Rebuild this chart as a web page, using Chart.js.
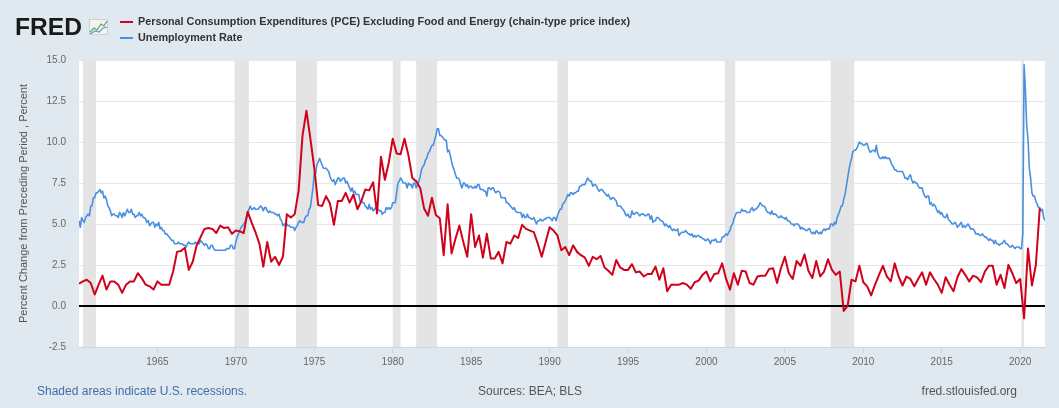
<!DOCTYPE html>
<html>
<head>
<meta charset="utf-8">
<title>PCE excluding food and energy vs unemployment rate</title>
<script src="https://cdn.jsdelivr.net/npm/chart.js@4.4.0/dist/chart.umd.min.js"></script>
<style>
  html, body { margin: 0; padding: 0; background: #e1e9f0; }
  #wrap { width: 1059px; height: 408px; }
</style>
</head>
<body>
<div id="wrap"><canvas id="chart" width="1059" height="408"></canvas></div>
<script>
"use strict";

// first observation of both series
const START_YEAR = 1960;

// PCE excl. food & energy, % change from preceding period (annual rate), quarterly from 1960 Q1
const pceCore = [
    1.36, 1.5, 1.6, 1.4,      // 1960
    0.7, 1.3, 1.85, 1.0,      // 1961
    1.5, 1.5, 1.3, 0.8,       // 1962
    1.3, 1.5, 1.5, 2.0,       // 1963
    1.7, 1.3, 1.2, 1.0,       // 1964
    1.5, 1.3, 1.3, 1.3,       // 1965
    2.1, 3.3, 3.35, 3.55,     // 1966
    2.2, 2.7, 3.7, 4.2,       // 1967
    4.7, 4.75, 4.7, 4.45,     // 1968
    4.9, 4.75, 4.8, 4.4,      // 1969
    4.6, 4.55, 4.45, 5.75,    // 1970
    5.1, 4.5, 3.8, 2.4,       // 1971
    3.9, 2.7, 3.0, 2.5,       // 1972
    3.0, 5.6, 5.4, 5.6,       // 1973
    7.0, 10.4, 11.9, 10.2,    // 1974
    8.4, 6.15, 6.1, 6.7,      // 1975
    6.25, 4.95, 6.4, 6.4,     // 1976
    6.9, 6.3, 6.8, 5.9,       // 1977
    6.4, 7.1, 7.05, 7.55,     // 1978
    5.65, 9.1, 7.7, 8.75,     // 1979
    10.2, 9.3, 9.25, 10.2,    // 1980
    9.2, 7.8, 7.6, 7.2,       // 1981
    5.95, 5.5, 6.6, 5.55,     // 1982
    5.35, 3.1, 6.2, 3.2,      // 1983
    4.1, 4.9, 3.9, 3.0,       // 1984
    5.6, 3.6, 4.3, 2.95,      // 1985
    4.4, 2.9, 2.9, 3.3,       // 1986
    2.6, 3.9, 3.8, 4.3,       // 1987
    4.15, 4.95, 4.7, 4.6,     // 1988
    4.5, 3.8, 3.0, 3.9,       // 1989
    4.8, 4.6, 4.3, 3.4,       // 1990
    3.6, 3.1, 3.7, 3.3,       // 1991
    3.1, 2.95, 2.45, 3.0,     // 1992
    2.85, 3.05, 2.35, 2.15,   // 1993
    1.9, 2.8, 2.35, 2.2,      // 1994
    2.2, 2.55, 2.05, 2.1,     // 1995
    1.8, 1.95, 1.95, 2.4,     // 1996
    1.6, 2.3, 0.9, 1.3,       // 1997
    1.3, 1.3, 1.4, 1.3,       // 1998
    1.05, 1.45, 1.55, 1.9,    // 1999
    2.1, 1.5, 1.95, 2.0,      // 2000
    2.6, 1.65, 1.0, 2.0,      // 2001
    1.3, 2.15, 2.1, 1.4,      // 2002
    1.3, 1.8, 1.85, 1.85,     // 2003
    2.25, 2.3, 1.4, 2.3,      // 2004
    3.0, 2.0, 1.65, 2.75,     // 2005
    2.45, 3.15, 2.15, 1.7,    // 2006
    2.75, 1.8, 2.1, 2.85,     // 2007
    2.2, 1.9, 2.1, -0.3,      // 2008
    0.0, 1.6, 1.5, 2.45,      // 2009
    1.45, 1.2, 0.65, 1.3,     // 2010
    1.9, 2.45, 1.8, 1.5,      // 2011
    2.6, 1.8, 1.25, 1.8,      // 2012
    1.65, 1.2, 1.65, 2.05,    // 2013
    1.3, 2.05, 1.65, 1.3,     // 2014
    0.8, 1.75, 1.3, 0.9,      // 2015
    1.75, 2.25, 1.9, 1.5,     // 2016
    1.85, 1.75, 1.45, 2.1,    // 2017
    2.45, 2.45, 1.3, 1.9,     // 2018
    1.1, 2.5, 2.0, 1.4,       // 2019
    1.65, -0.75, 3.5, 1.25,   // 2020
    2.5, 5.95                 // 2021
];

// civilian unemployment rate, percent, monthly from 1960-01
const unemploymentRate = [
    5.2, 4.8, 5.4, 5.2, 5.1, 5.4, 5.5, 5.6, 5.5, 6.1, 6.1, 6.6,          // 1960
    6.6, 6.9, 6.9, 7.0, 7.1, 6.9, 7.0, 6.6, 6.7, 6.5, 6.1, 6.0,          // 1961
    5.8, 5.5, 5.6, 5.6, 5.5, 5.5, 5.4, 5.7, 5.6, 5.4, 5.7, 5.5,          // 1962
    5.7, 5.9, 5.7, 5.7, 5.9, 5.6, 5.6, 5.4, 5.5, 5.5, 5.7, 5.5,          // 1963
    5.6, 5.4, 5.4, 5.3, 5.1, 5.2, 4.9, 5.0, 5.1, 5.1, 4.8, 5.0,          // 1964
    4.9, 5.1, 4.7, 4.8, 4.6, 4.6, 4.4, 4.4, 4.3, 4.2, 4.1, 4.0,          // 1965
    4.0, 3.8, 3.8, 3.8, 3.9, 3.8, 3.8, 3.8, 3.7, 3.7, 3.6, 3.8,          // 1966
    3.9, 3.8, 3.8, 3.8, 3.8, 3.9, 3.8, 3.8, 3.8, 4.0, 3.9, 3.8,          // 1967
    3.7, 3.8, 3.7, 3.5, 3.5, 3.7, 3.7, 3.5, 3.4, 3.4, 3.4, 3.4,          // 1968
    3.4, 3.4, 3.4, 3.4, 3.4, 3.5, 3.5, 3.5, 3.7, 3.7, 3.5, 3.5,          // 1969
    3.9, 4.2, 4.4, 4.6, 4.8, 4.9, 5.0, 5.1, 5.4, 5.5, 5.9, 6.1,          // 1970
    5.9, 5.9, 6.0, 5.9, 5.9, 5.9, 6.0, 6.1, 6.0, 5.8, 6.0, 6.0,          // 1971
    5.8, 5.7, 5.8, 5.7, 5.7, 5.7, 5.6, 5.6, 5.5, 5.6, 5.3, 5.2,          // 1972
    4.9, 5.0, 4.9, 5.0, 4.9, 4.9, 4.8, 4.8, 4.8, 4.6, 4.8, 4.9,          // 1973
    5.1, 5.2, 5.1, 5.1, 5.1, 5.4, 5.5, 5.5, 5.9, 6.0, 6.6, 7.2,          // 1974
    8.1, 8.1, 8.6, 8.8, 9.0, 8.8, 8.6, 8.4, 8.4, 8.4, 8.3, 8.2,          // 1975
    7.9, 7.7, 7.6, 7.7, 7.4, 7.6, 7.8, 7.8, 7.6, 7.7, 7.8, 7.8,          // 1976
    7.5, 7.6, 7.4, 7.2, 7.0, 7.2, 6.9, 7.0, 6.8, 6.8, 6.8, 6.4,          // 1977
    6.4, 6.3, 6.3, 6.1, 6.0, 5.9, 6.2, 5.9, 6.0, 5.8, 5.9, 6.0,          // 1978
    5.9, 5.9, 5.8, 5.8, 5.6, 5.7, 5.7, 6.0, 5.9, 6.0, 5.9, 6.0,          // 1979
    6.3, 6.3, 6.3, 6.9, 7.5, 7.6, 7.8, 7.7, 7.5, 7.5, 7.5, 7.2,          // 1980
    7.5, 7.4, 7.4, 7.2, 7.5, 7.5, 7.2, 7.4, 7.6, 7.9, 8.3, 8.5,          // 1981
    8.6, 8.9, 9.0, 9.3, 9.4, 9.6, 9.8, 9.8, 10.1, 10.4, 10.8, 10.8,      // 1982
    10.4, 10.4, 10.3, 10.2, 10.1, 10.1, 9.4, 9.5, 9.2, 8.8, 8.5, 8.3,    // 1983
    8.0, 7.8, 7.8, 7.7, 7.4, 7.2, 7.5, 7.5, 7.3, 7.4, 7.2, 7.3,          // 1984
    7.3, 7.2, 7.2, 7.3, 7.2, 7.4, 7.4, 7.1, 7.1, 7.1, 7.0, 7.0,          // 1985
    6.7, 7.2, 7.2, 7.1, 7.2, 7.2, 7.0, 6.9, 7.0, 7.0, 6.9, 6.6,          // 1986
    6.6, 6.6, 6.6, 6.3, 6.3, 6.2, 6.1, 6.0, 5.9, 6.0, 5.8, 5.7,          // 1987
    5.7, 5.7, 5.7, 5.4, 5.6, 5.4, 5.4, 5.6, 5.4, 5.4, 5.3, 5.3,          // 1988
    5.4, 5.2, 5.0, 5.2, 5.2, 5.3, 5.2, 5.2, 5.3, 5.3, 5.4, 5.4,          // 1989
    5.4, 5.3, 5.2, 5.4, 5.4, 5.2, 5.5, 5.7, 5.9, 5.9, 6.2, 6.3,          // 1990
    6.4, 6.6, 6.8, 6.7, 6.9, 6.9, 6.8, 6.9, 6.9, 7.0, 7.0, 7.3,          // 1991
    7.3, 7.4, 7.4, 7.4, 7.6, 7.8, 7.7, 7.6, 7.6, 7.3, 7.4, 7.4,          // 1992
    7.3, 7.1, 7.0, 7.1, 7.1, 7.0, 6.9, 6.8, 6.7, 6.8, 6.6, 6.5,          // 1993
    6.6, 6.6, 6.5, 6.4, 6.1, 6.1, 6.1, 6.0, 5.9, 5.8, 5.6, 5.5,          // 1994
    5.6, 5.4, 5.4, 5.8, 5.6, 5.6, 5.7, 5.7, 5.6, 5.5, 5.6, 5.6,          // 1995
    5.6, 5.5, 5.5, 5.6, 5.6, 5.3, 5.5, 5.1, 5.2, 5.2, 5.4, 5.4,          // 1996
    5.3, 5.2, 5.2, 5.1, 4.9, 5.0, 4.9, 4.8, 4.9, 4.7, 4.6, 4.7,          // 1997
    4.6, 4.6, 4.7, 4.3, 4.4, 4.5, 4.5, 4.5, 4.6, 4.5, 4.4, 4.4,          // 1998
    4.3, 4.4, 4.2, 4.3, 4.2, 4.3, 4.3, 4.2, 4.2, 4.1, 4.1, 4.0,          // 1999
    4.0, 4.1, 4.0, 3.8, 4.0, 4.0, 4.0, 4.1, 3.9, 3.9, 3.9, 3.9,          // 2000
    4.2, 4.2, 4.3, 4.4, 4.3, 4.5, 4.6, 4.9, 5.0, 5.3, 5.5, 5.7,          // 2001
    5.7, 5.7, 5.7, 5.9, 5.8, 5.8, 5.8, 5.7, 5.7, 5.7, 5.9, 6.0,          // 2002
    5.8, 5.9, 5.9, 6.0, 6.1, 6.3, 6.2, 6.1, 6.1, 6.0, 5.8, 5.7,          // 2003
    5.7, 5.6, 5.8, 5.6, 5.6, 5.6, 5.5, 5.4, 5.4, 5.5, 5.4, 5.4,          // 2004
    5.3, 5.4, 5.2, 5.2, 5.1, 5.0, 5.0, 4.9, 5.0, 5.0, 5.0, 4.9,          // 2005
    4.7, 4.8, 4.7, 4.7, 4.6, 4.6, 4.7, 4.7, 4.5, 4.4, 4.5, 4.4,          // 2006
    4.6, 4.5, 4.4, 4.5, 4.4, 4.6, 4.7, 4.6, 4.7, 4.7, 4.7, 5.0,          // 2007
    5.0, 4.9, 5.1, 5.0, 5.4, 5.6, 5.8, 6.1, 6.1, 6.5, 6.8, 7.3,          // 2008
    7.8, 8.3, 8.7, 9.0, 9.4, 9.5, 9.5, 9.6, 9.8, 10.0, 9.9, 9.9,         // 2009
    9.8, 9.8, 9.9, 9.9, 9.6, 9.4, 9.4, 9.5, 9.5, 9.4, 9.8, 9.3,          // 2010
    9.1, 9.0, 9.0, 9.1, 9.0, 9.1, 9.0, 9.0, 9.0, 8.8, 8.6, 8.5,          // 2011
    8.3, 8.3, 8.2, 8.2, 8.2, 8.2, 8.2, 8.0, 7.8, 7.8, 7.7, 7.9,          // 2012
    8.0, 7.7, 7.5, 7.6, 7.5, 7.5, 7.3, 7.2, 7.2, 7.2, 6.9, 6.7,          // 2013
    6.6, 6.7, 6.7, 6.2, 6.3, 6.1, 6.2, 6.1, 5.9, 5.7, 5.8, 5.6,          // 2014
    5.7, 5.5, 5.4, 5.4, 5.6, 5.3, 5.2, 5.1, 5.0, 5.0, 5.1, 5.0,          // 2015
    4.8, 4.9, 5.0, 5.1, 4.8, 4.9, 4.8, 4.9, 5.0, 4.9, 4.7, 4.7,          // 2016
    4.7, 4.6, 4.4, 4.4, 4.4, 4.3, 4.3, 4.4, 4.3, 4.2, 4.2, 4.1,          // 2017
    4.0, 4.1, 4.0, 4.0, 3.8, 4.0, 3.8, 3.8, 3.7, 3.8, 3.8, 3.9,          // 2018
    4.0, 3.8, 3.8, 3.7, 3.6, 3.6, 3.7, 3.6, 3.5, 3.6, 3.6, 3.6,          // 2019
    3.5, 3.5, 4.4, 14.7, 13.2, 11.0, 10.2, 8.4, 7.8, 6.9, 6.7, 6.7,      // 2020
    6.4, 6.2, 6.0, 6.0, 5.8, 5.9, 5.4, 5.2                               // 2021
];

// NBER recessions, [peak, trough] as decimal years
const recessions = [
    [1960.25, 1961.08],
    [1969.92, 1970.83],
    [1973.83, 1975.17],
    [1980.0, 1980.5],
    [1981.5, 1982.83],
    [1990.5, 1991.17],
    [2001.17, 2001.83],
    [2007.92, 2009.42],
    [2020.08, 2020.25]
];

// labelled years on the x axis
const xTickYears = [1965, 1970, 1975, 1980, 1985, 1990, 1995, 2000, 2005, 2010, 2015, 2020];

const seriesNames = [
    "Personal Consumption Expenditures (PCE) Excluding Food and Energy (chain-type price index)",
    "Unemployment Rate"
];
const seriesColors = ["#d0021b", "#4a90e2"];

const FONT = '"Liberation Sans", Arial, Helvetica, sans-serif';
const LAST_MONTH = START_YEAR + (unemploymentRate.length - 1) / 12;

// 指定幅に合わせて横方向だけ伸縮して描く
function fitText(ctx, text, x, y, width) {
    const w = ctx.measureText(text).width;
    ctx.save();
    ctx.translate(x, y);
    ctx.scale(width / w, 1);
    ctx.fillText(text, 0, 0);
    ctx.restore();
}

// 背景と白いプロット領域
const backgroundPlugin = {
    id: "fredBackground",
    beforeDraw(chart) {
        const {ctx, chartArea: a} = chart;
        ctx.save();
        ctx.fillStyle = "#e1e9f0";
        ctx.fillRect(0, 0, chart.width, chart.height);
        ctx.fillStyle = "#ffffff";
        ctx.fillRect(a.left, a.top, a.right - a.left, a.bottom - a.top);
        ctx.restore();
    }
};

// 景気後退期の網掛けとゼロ線
const recessionPlugin = {
    id: "recessionBands",
    beforeDatasetsDraw(chart) {
        const {ctx, chartArea: a, scales} = chart;
        const x = scales.x, y = scales.y;
        ctx.save();
        ctx.fillStyle = "#e4e4e4";
        recessions.forEach(([from, to]) => {
            const x0 = Math.max(a.left, x.getPixelForValue(from));
            const x1 = Math.min(a.right, x.getPixelForValue(to));
            ctx.fillRect(x0, a.top, x1 - x0, a.bottom - a.top);
        });
        const y0 = Math.round(y.getPixelForValue(0));
        ctx.strokeStyle = "#000000";
        ctx.lineWidth = 2;
        ctx.beginPath();
        ctx.moveTo(a.left, y0);
        ctx.lineTo(a.right, y0);
        ctx.stroke();
        ctx.restore();
    }
};

// ロゴ・凡例・注記
const headerFooterPlugin = {
    id: "fredText",
    afterDraw(chart) {
        const ctx = chart.ctx;
        ctx.save();

        // FRED ロゴ
        ctx.fillStyle = "#1a1a1a";
        ctx.font = "bold 24px " + FONT;
        ctx.textBaseline = "alphabetic";
        fitText(ctx, "FRED", 15, 35, 67);

        // ロゴ横の小さなグラフアイコン
        ctx.fillStyle = "#f2f4f2";
        ctx.fillRect(89, 19, 19, 16);
        ctx.strokeStyle = "#c9d3c9";
        ctx.lineWidth = 1;
        ctx.strokeRect(89.5, 19.5, 18, 15);
        ctx.lineWidth = 1.2;
        ctx.strokeStyle = "#5fa35f";
        ctx.beginPath();
        ctx.moveTo(90, 32); ctx.lineTo(94, 28); ctx.lineTo(97, 30);
        ctx.lineTo(101, 24); ctx.lineTo(104, 26); ctx.lineTo(107, 21);
        ctx.stroke();
        ctx.strokeStyle = "#6f93c8";
        ctx.beginPath();
        ctx.moveTo(90, 34); ctx.lineTo(95, 31); ctx.lineTo(99, 32);
        ctx.lineTo(103, 28); ctx.lineTo(107, 27);
        ctx.stroke();

        // 凡例
        ctx.font = "bold 11px " + FONT;
        ctx.textBaseline = "middle";
        const rows = [22, 38];
        const squeeze = Math.min(1, 492 / ctx.measureText(seriesNames[0]).width);
        seriesNames.forEach((name, i) => {
            ctx.strokeStyle = seriesColors[i];
            ctx.lineWidth = 2;
            ctx.beginPath();
            ctx.moveTo(120, rows[i]);
            ctx.lineTo(133, rows[i]);
            ctx.stroke();
            ctx.fillStyle = "#333333";
            fitText(ctx, name, 138, rows[i], ctx.measureText(name).width * squeeze);
        });

        // 下部の注記
        ctx.font = "12px " + FONT;
        ctx.fillStyle = "#3d6eaa";
        ctx.textAlign = "left";
        ctx.fillText("Shaded areas indicate U.S. recessions.", 37, 392);
        ctx.fillStyle = "#555555";
        ctx.textAlign = "center";
        ctx.fillText("Sources: BEA; BLS", 530, 392);
        ctx.textAlign = "right";
        ctx.fillText("fred.stlouisfed.org", 1017, 392);

        ctx.restore();
    }
};

const config = {
    type: "line",
    data: {
        datasets: [
            {
                label: seriesNames[0],
                data: pceCore.map((v, i) => ({x: START_YEAR + i / 4, y: v})),
                borderColor: seriesColors[0],
                borderWidth: 2,
                order: 0
            },
            {
                label: seriesNames[1],
                data: unemploymentRate.map((v, i) => ({x: START_YEAR + i / 12, y: v})),
                borderColor: seriesColors[1],
                borderWidth: 1.6,
                order: 1
            }
        ]
    },
    options: {
        responsive: false,
        animation: false,
        devicePixelRatio: 1,
        layout: {padding: {left: 0, right: 14, top: 60, bottom: 0}},
        elements: {
            point: {radius: 0},
            line: {tension: 0, borderJoinStyle: "round"}
        },
        plugins: {
            legend: {display: false},
            tooltip: {enabled: false}
        },
        scales: {
            x: {
                type: "linear",
                min: START_YEAR,
                max: LAST_MONTH,
                afterBuildTicks: scale => {
                    scale.ticks = xTickYears.map(v => ({value: v}));
                },
                afterFit: scale => { scale.height = 61; },
                ticks: {
                    autoSkip: false,
                    maxRotation: 0,
                    padding: 3,
                    color: "#666666",
                    font: {family: FONT, size: 10},
                    callback: value => String(value)
                },
                grid: {
                    drawOnChartArea: false,
                    drawTicks: true,
                    tickLength: 6,
                    color: "#ccd6eb"
                },
                border: {display: true, color: "#ccd6eb"}
            },
            y: {
                min: -2.5,
                max: 15,
                afterFit: scale => { scale.width = 79; },
                ticks: {
                    stepSize: 2.5,
                    padding: 13,
                    color: "#666666",
                    font: {family: FONT, size: 10},
                    callback: value => Number(value).toFixed(1)
                },
                grid: {
                    drawTicks: false,
                    color: "#e6e6e6"
                },
                border: {display: false},
                title: {
                    display: true,
                    text: "Percent Change from Preceding Period , Percent",
                    color: "#555555",
                    font: {family: FONT, size: 11},
                    padding: {top: 17, bottom: 0}
                }
            }
        }
    },
    plugins: [backgroundPlugin, recessionPlugin, headerFooterPlugin]
};

new Chart(document.getElementById("chart"), config);
</script>
</body>
</html>
